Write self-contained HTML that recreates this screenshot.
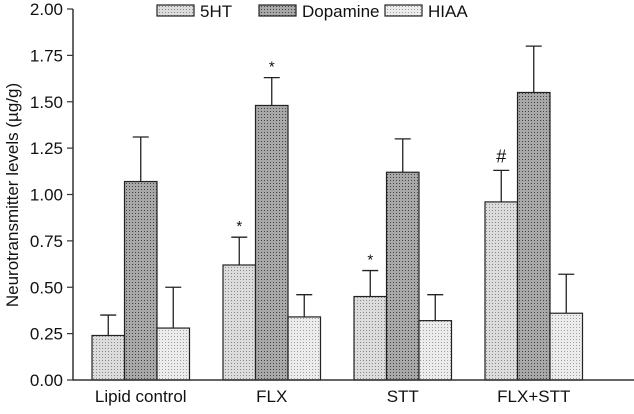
<!DOCTYPE html>
<html><head><meta charset="utf-8"><style>
body{margin:0;background:#fff;}
svg text{font-family:"Liberation Sans",Arial,sans-serif;fill:#111;}
</style></head><body>
<svg id="chart" width="634" height="409" xmlns="http://www.w3.org/2000/svg">
<defs>
<pattern id="p0" width="3" height="3" patternUnits="userSpaceOnUse"><rect width="3" height="3" fill="#dcdcdc"/><rect width="1" height="1" fill="#8a8a8a"/></pattern>
<pattern id="p1" width="3" height="3" patternUnits="userSpaceOnUse"><rect width="3" height="3" fill="#a8a8a8"/><rect width="1" height="1" fill="#444"/></pattern>
<pattern id="p2" width="3" height="3" patternUnits="userSpaceOnUse"><rect width="3" height="3" fill="#ececec"/><rect width="1" height="1" fill="#a0a0a0"/></pattern>
</defs>
<g id="plot"></g>
</svg>
<script>
const categories=["Lipid control","FLX","STT","FLX+STT"];
const seriesNames=["5HT","Dopamine","HIAA"];
const val5HT=[0.24,0.62,0.45,0.96];
const err5HT=[0.11,0.15,0.14,0.17];
const valDA=[1.07,1.48,1.12,1.55];
const errDA=[0.24,0.15,0.18,0.25];
const valHIAA=[0.28,0.34,0.32,0.36];
const errHIAA=[0.22,0.12,0.14,0.21];
const yTicks=["0.00","0.25","0.50","0.75","1.00","1.25","1.50","1.75","2.00"];
const marks5HT=["","*","*","#"];
const marksDA=["","*","",""];
const marksHIAA=["","","",""];

const NS="http://www.w3.org/2000/svg";
const g=document.getElementById("plot");
function el(t,a,txt){const e=document.createElementNS(NS,t);for(const k in a)e.setAttribute(k,a[k]);if(txt!==undefined)e.textContent=txt;g.appendChild(e);return e;}
const y0=380,y1=9,x0=73;
function y(v){return y0-(v/2)*(y0-y1);}
function gx(i){return 92+i*131;}
const bw=32.5;
const vals=[val5HT,valDA,valHIAA],errs=[err5HT,errDA,errHIAA],marks=[marks5HT,marksDA,marksHIAA];

yTicks.forEach(t=>{const v=parseFloat(t);
 const l=el("line",{x1:x0-6,x2:x0,y1:y(v),y2:y(v),stroke:"#333","stroke-width":1.2});
 
 
 const tx=el("text",{x:x0-10,y:y(v)+6,"text-anchor":"end","font-size":17},t);
 
 
});
categories.forEach((c,i)=>{
 for(let s=0;s<3;s++){
  const x=gx(i)+s*bw,v=vals[s][i],e=errs[s][i],cx=x+bw/2;
  const r=el("rect",{x:x,y:y(v),width:bw,height:y0-y(v),fill:`url(#p${s})`,stroke:"#222","stroke-width":1.2});
  
  
  const eb=el("path",{d:`M${cx},${y(v)}V${y(v+e)}M${cx-8},${y(v+e)}H${cx+8}`,stroke:"#222","stroke-width":1.3,fill:"none"});
  
  
  if(marks[s][i]){const m=el("text",{x:cx,y:y(v+e)-(marks[s][i]=="#"?8:6),"text-anchor":"middle","font-size":marks[s][i]=="#"?18:15},marks[s][i]);
   
   }
 }
 const lt=el("text",{x:gx(i)+48.75,y:402,"text-anchor":"middle","font-size":17},c);
 
 
});
const ax=el("path",{d:`M${x0},${y1}V${y0}H634`,stroke:"#333","stroke-width":1.5,fill:"none"});


const yt=el("text",{transform:"translate(18,195) rotate(-90)","text-anchor":"middle","font-size":17},"Neurotransmitter levels (µg/g)");


const lx=[157,259,385];
seriesNames.forEach((n,s)=>{
 const r=el("rect",{x:lx[s],y:5,width:37,height:11,fill:`url(#p${s})`,stroke:"#222","stroke-width":1.2});
 
 
 const t=el("text",{x:lx[s]+43,y:17,"font-size":17},n);
 
 
});
</script>
</body></html>
